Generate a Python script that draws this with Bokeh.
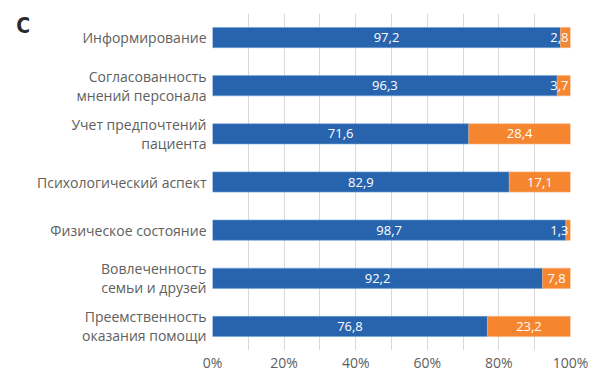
from bokeh.plotting import figure
from bokeh.models import ColumnDataSource, FixedTicker, CustomJSTickFormatter
from bokeh.core.properties import value
from bokeh.embed import file_html
from bokeh.resources import INLINE

panel_letter = "C"
categories = ["Информирование", "Согласованность\nмнений персонала", "Учет предпочтений\nпациента",
              "Психологический аспект", "Физическое состояние", "Вовлеченность\nсемьи и друзей",
              "Преемственность\nоказания помощи"]
yes_vals = [97.2, 96.3, 71.6, 82.9, 98.7, 92.2, 76.8]
no_vals = [2.8, 3.7, 28.4, 17.1, 1.3, 7.8, 23.2]
x_ticks = [0, 20, 40, 60, 80, 100]

BLUE = "#2864AE"
ORANGE = "#F5862F"
FONT = "Open Sans"
GRAY = "#606060"

fmt = lambda v: f"{v:.1f}".replace(".", ",")
totals = [a + b for a, b in zip(yes_vals, no_vals)]
src = ColumnDataSource(dict(
    cat=categories, yes=yes_vals, no=no_vals, total=totals,
    yes_mid=[a / 2 for a in yes_vals],
    yes_lbl=[fmt(v) for v in yes_vals],
))
wide = [i for i, v in enumerate(no_vals) if v >= 5]
narrow = [i for i, v in enumerate(no_vals) if v < 5]
src_wide = ColumnDataSource(dict(cat=[categories[i] for i in wide],
                                 x=[yes_vals[i] + no_vals[i] / 2 for i in wide],
                                 lbl=[fmt(no_vals[i]) for i in wide]))
src_narrow = ColumnDataSource(dict(cat=[categories[i] for i in narrow],
                                   x=[totals[i] for i in narrow],
                                   lbl=[fmt(no_vals[i]) for i in narrow]))

p = figure(width=592, height=374, y_range=list(reversed(categories)), x_range=(0, 100),
           output_backend="svg", toolbar_location=None,
           min_border_left=212, min_border_right=22, min_border_top=13, min_border_bottom=20)
p.outline_line_color = None

p.hbar(y="cat", left=0, right="yes", height=0.42, source=src, fill_color=BLUE, line_color="#6fa3d8", line_width=0.6)
p.hbar(y="cat", left="yes", right="total", height=0.42, source=src, fill_color=ORANGE, line_color="#f9b07a", line_width=0.6)

common = dict(y="cat", text_baseline="middle", text_color="white", text_font=value(FONT), text_font_size="13px")
p.text(x="yes_mid", text="yes_lbl", source=src, text_align="center", **common)
p.text(x="x", text="lbl", source=src_wide, text_align="center", **common)
p.text(x="x", text="lbl", source=src_narrow, text_align="right", x_offset=-2, **common)

p.xaxis.ticker = FixedTicker(ticks=x_ticks)
p.xaxis.formatter = CustomJSTickFormatter(code="return tick + '%';")
p.xgrid.ticker = FixedTicker(ticks=list(range(0, 101, 10)))
p.xgrid.grid_line_color = "#d9d9d9"
p.ygrid.grid_line_color = None

for ax in (p.xaxis, p.yaxis):
    ax.axis_line_color = None
    ax.major_tick_line_color = None
    ax.minor_tick_line_color = None
    ax.major_tick_out = 0
    ax.minor_tick_out = 0
    ax.major_label_text_font = FONT
    ax.major_label_text_font_size = "14px"
    ax.major_label_text_color = GRAY
p.yaxis.major_label_standoff = 6
p.yaxis.major_label_text_line_height = 1.0
p.xaxis.major_label_standoff = 2

p.yaxis.axis_label = " \n" + panel_letter
p.yaxis.axis_label_orientation = "horizontal"
p.yaxis.axis_label_align = "end"
p.yaxis.axis_label_text_line_height = 1.0
p.yaxis.axis_label_standoff = 4
p.yaxis.axis_label_text_font = "DejaVu Sans Condensed"
p.yaxis.axis_label_text_font_size = "21px"
p.yaxis.axis_label_text_font_style = "bold"
p.yaxis.axis_label_text_color = "#2a2a2a"

open("out.html", "w").write(file_html(p, INLINE))
